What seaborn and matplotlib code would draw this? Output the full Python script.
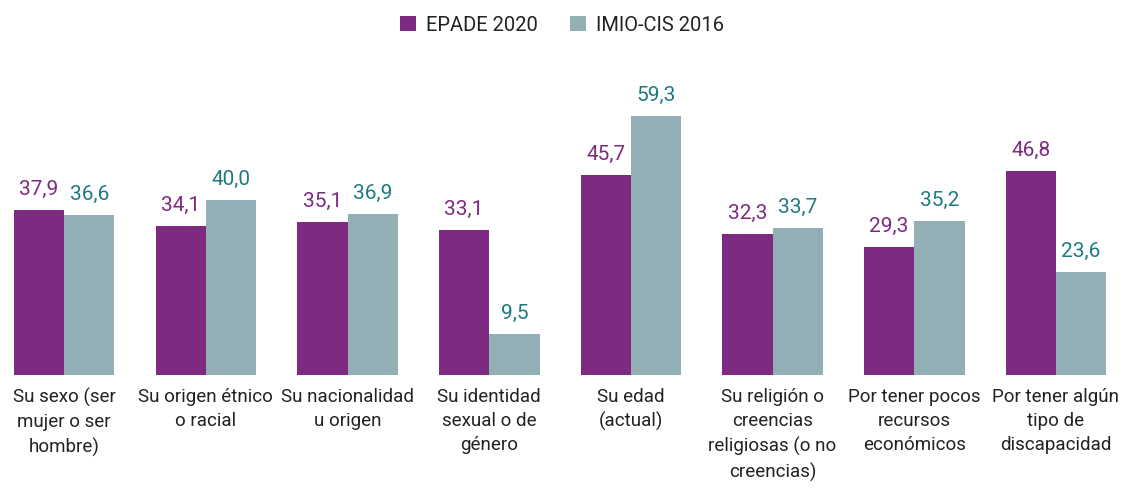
import pandas as pd
import matplotlib.pyplot as plt
import seaborn as sns

# Data
categorias = [
    "Su sexo (ser\nmujer o ser\nhombre)",
    "Su origen étnico\no racial",
    "Su nacionalidad\nu origen",
    "Su identidad\nsexual o de\ngénero",
    "Su edad\n(actual)",
    "Su religión o\ncreencias\nreligiosas (o no\ncreencias)",
    "Por tener pocos\nrecursos\neconómicos",
    "Por tener algún\ntipo de\ndiscapacidad",
]
series = ["EPADE 2020", "IMIO-CIS 2016"]
epade_2020 = [37.9, 34.1, 35.1, 33.1, 45.7, 32.3, 29.3, 46.8]
imio_cis_2016 = [36.6, 40.0, 36.9, 9.5, 59.3, 33.7, 35.2, 23.6]

bar_colors = ["#7E2A80", "#92AFB5"]
label_colors = ["#7E2A80", "#1F7A80"]

df = pd.DataFrame({
    "categoria": categorias * 2,
    "serie": [series[0]] * len(categorias) + [series[1]] * len(categorias),
    "valor": epade_2020 + imio_cis_2016,
})

sns.set_style("white")
plt.rcParams["font.family"] = ["Roboto", "DejaVu Sans"]

fig = plt.figure(figsize=(11.24, 4.93), dpi=100)
ax = fig.add_axes([0, 118 / 493, 1, 0.62])

sns.barplot(data=df, x="categoria", y="valor", hue="serie", palette=bar_colors,
            saturation=1, width=0.71, linewidth=0, ax=ax)

for cont, col in zip(ax.containers, label_colors):
    ax.bar_label(cont, labels=[f"{v:.1f}".replace(".", ",") for v in cont.datavalues],
                 color=col, fontsize=15, padding=8)

ax.set_xlim(-0.453, 7.48)
ax.set_ylim(0, 70)
ax.set_xlabel("")
ax.set_ylabel("")
ax.set_yticks([])
ax.tick_params(axis="x", length=0, pad=9, labelsize=13.5, colors="#222222")
for lbl in ax.get_xticklabels():
    lbl.set_linespacing(1.45)
sns.despine(ax=ax, left=True, bottom=True)

handles, labels = ax.get_legend_handles_labels()
ax.legend_.remove()
fig.legend(handles, labels, loc="upper center", bbox_to_anchor=(0.5, 1.005), ncol=2,
           frameon=False, fontsize=14.5, handlelength=0.8, handleheight=0.8,
           handletextpad=0.5, columnspacing=1.6, labelcolor="#222222")

fig.savefig("out.png", dpi=100)
